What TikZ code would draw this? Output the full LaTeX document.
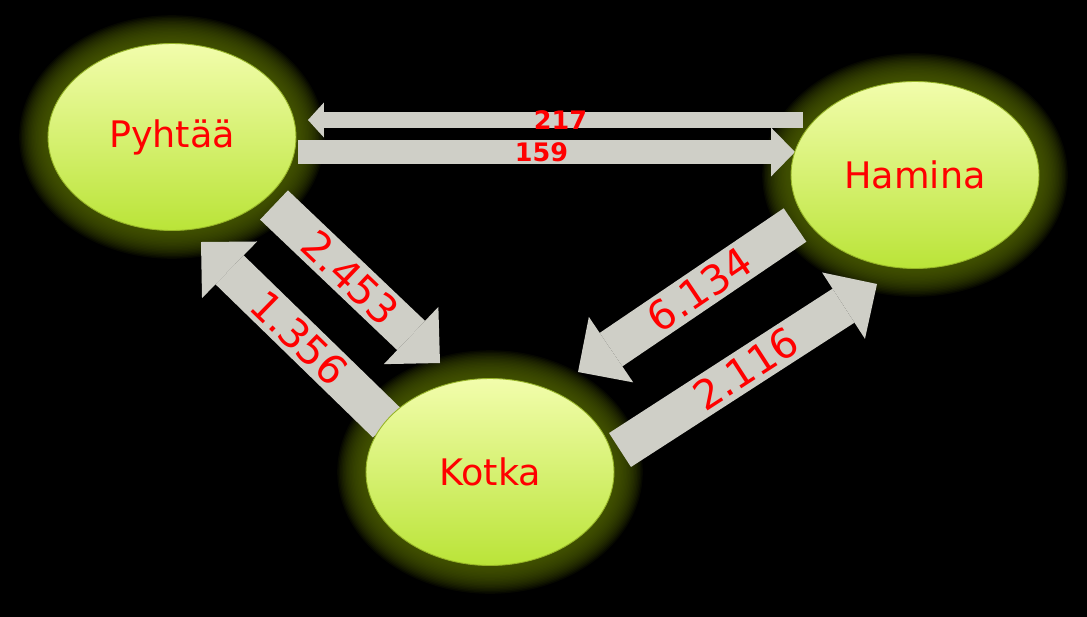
\documentclass[tikz,border=0pt]{standalone}
\usepackage{fontspec}
\setmainfont{DejaVu Sans}
\usetikzlibrary{shapes.geometric,arrows.meta,calc}

\definecolor{flowgray}{RGB}{207,207,199}
\definecolor{glowolive}{RGB}{80,98,0}
\definecolor{towntop}{RGB}{242,253,172}
\definecolor{townbottom}{RGB}{186,228,56}
\definecolor{townrim}{RGB}{150,180,40}

\pgfdeclarelayer{halo}
\pgfdeclarelayer{flows}
\pgfsetlayers{halo,flows,main}

\tikzset{
  town/.style={ellipse,minimum width=4.96cm,minimum height=3.74cm,inner sep=0pt,
    top color=towntop,bottom color=townbottom,draw=townrim,line width=0.5pt,
    text=red,font=\fontsize{20.8}{25}\selectfont},
  flowwide/.style={draw=flowgray,line width=23pt,
    -{Triangle[width=45pt,length=22.7pt,line width=0pt]}},
  flowthin/.style={draw=flowgray,line width=9.6pt,
    -{Triangle[width=19.8pt,length=9pt,line width=0pt]}},
  flowmid/.style={draw=flowgray,line width=13.6pt,
    -{Triangle[width=27.8pt,length=13.6pt,line width=0pt]}},
  biglabel/.style={sloped,text=red,inner sep=0pt,font=\fontsize{23}{27}\selectfont},
  smalllabel/.style={text=red,inner sep=0pt,font=\bfseries\fontsize{14.5}{17}\selectfont}
}

\begin{document}
\begin{tikzpicture}[x=0.02cm,y=-0.02cm]
 \useasboundingbox (0,0) rectangle (1087,616);
 \begin{pgfonlayer}{halo}
  \fill[black] (-5,-5) rectangle (1092,621);
 \end{pgfonlayer}
 % towns
 \node[town] (pyh) at (172,137) {Pyhtää};
 \node[town] (ham) at (915,175) {Hamina};
 \node[town] (kot) at (490,472) {Kotka};
 % glow round the towns
 \begin{pgfonlayer}{halo}
  \foreach \n in {pyh,ham,kot}
   \foreach \g in {1,...,22}
    \fill[glowolive,opacity=0.09] (\n.center) ellipse [x radius=122+1.4*\g,y radius=91+1.4*\g];
 \end{pgfonlayer}
 % flows
 \begin{pgfonlayer}{flows}
  \draw[flowthin] ($(ham)+(-112,-55)$) -- node[smalllabel,pos=0.49] {217} ($(pyh)+(136,-17)$);
  \draw[flowmid] ($(pyh)+(126,15)$) -- node[smalllabel,pos=0.49] {159} ($(ham)+(-120,-23)$);
  \draw[flowwide] ($(pyh)+(102,68)$) -- node[biglabel,pos=0.46] {2.453} ($(kot)+(-50,-109)$);
  \draw[flowwide] ($(kot)+(-103,-49)$) -- node[biglabel,pos=0.47] {1.356} ($(pyh)+(29,105)$);
  \draw[flowwide] ($(ham)+(-120,50)$) -- node[biglabel,pos=0.44] {6.134} ($(kot)+(88,-100)$);
  \draw[flowwide] ($(kot)+(130,-22)$) -- node[biglabel,pos=0.49] {2.116} ($(ham)+(-38,109)$);
 \end{pgfonlayer}
\end{tikzpicture}
\end{document}
